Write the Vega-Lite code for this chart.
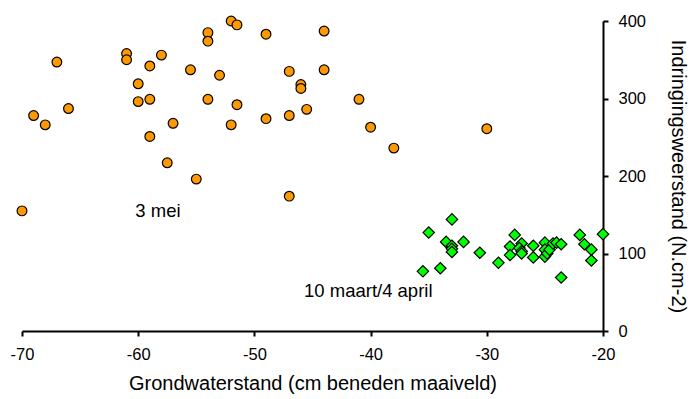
{
  "$schema": "https://vega.github.io/schema/vega-lite/v6.json",
  "width": 581,
  "height": 310,
  "autosize": "none",
  "padding": {"left": 22, "top": 21, "right": 91, "bottom": 68},
  "background": "white",
  "config": {
    "view": {"stroke": null},
    "font": "Liberation Sans",
    "axis": {
      "grid": false,
      "domainColor": "black",
      "domainWidth": 2,
      "tickColor": "black",
      "tickWidth": 2,
      "tickSize": 5,
      "labelColor": "black",
      "labelFont": "Liberation Sans",
      "labelFontSize": 16.5,
      "labelFlush": false,
      "labelExpr": "'' + datum.value",
      "titleColor": "black",
      "titleFont": "Liberation Sans",
      "titleFontSize": 20,
      "titleFontWeight": "normal"
    }
  },
  "datasets": {
    "metingen": [
      {"reeks": "3 mei", "grondwater": -70, "weerstand": 155},
      {"reeks": "3 mei", "grondwater": -69, "weerstand": 278},
      {"reeks": "3 mei", "grondwater": -68, "weerstand": 266},
      {"reeks": "3 mei", "grondwater": -67, "weerstand": 347},
      {"reeks": "3 mei", "grondwater": -66, "weerstand": 287},
      {"reeks": "3 mei", "grondwater": -61, "weerstand": 358},
      {"reeks": "3 mei", "grondwater": -61, "weerstand": 350},
      {"reeks": "3 mei", "grondwater": -60, "weerstand": 319},
      {"reeks": "3 mei", "grondwater": -60, "weerstand": 296},
      {"reeks": "3 mei", "grondwater": -59, "weerstand": 342},
      {"reeks": "3 mei", "grondwater": -59, "weerstand": 299},
      {"reeks": "3 mei", "grondwater": -59, "weerstand": 251},
      {"reeks": "3 mei", "grondwater": -58, "weerstand": 356},
      {"reeks": "3 mei", "grondwater": -57.5, "weerstand": 217},
      {"reeks": "3 mei", "grondwater": -57, "weerstand": 268},
      {"reeks": "3 mei", "grondwater": -55.5, "weerstand": 337},
      {"reeks": "3 mei", "grondwater": -55, "weerstand": 196},
      {"reeks": "3 mei", "grondwater": -54, "weerstand": 385},
      {"reeks": "3 mei", "grondwater": -54, "weerstand": 374},
      {"reeks": "3 mei", "grondwater": -54, "weerstand": 299},
      {"reeks": "3 mei", "grondwater": -53, "weerstand": 330},
      {"reeks": "3 mei", "grondwater": -52, "weerstand": 400},
      {"reeks": "3 mei", "grondwater": -51.5, "weerstand": 395},
      {"reeks": "3 mei", "grondwater": -51.5, "weerstand": 292},
      {"reeks": "3 mei", "grondwater": -52, "weerstand": 266},
      {"reeks": "3 mei", "grondwater": -49, "weerstand": 383},
      {"reeks": "3 mei", "grondwater": -49, "weerstand": 274},
      {"reeks": "3 mei", "grondwater": -47, "weerstand": 335},
      {"reeks": "3 mei", "grondwater": -47, "weerstand": 278},
      {"reeks": "3 mei", "grondwater": -47, "weerstand": 174},
      {"reeks": "3 mei", "grondwater": -46, "weerstand": 318},
      {"reeks": "3 mei", "grondwater": -46, "weerstand": 313},
      {"reeks": "3 mei", "grondwater": -45.5, "weerstand": 286},
      {"reeks": "3 mei", "grondwater": -44, "weerstand": 387},
      {"reeks": "3 mei", "grondwater": -44, "weerstand": 337},
      {"reeks": "3 mei", "grondwater": -41, "weerstand": 299},
      {"reeks": "3 mei", "grondwater": -40, "weerstand": 263},
      {"reeks": "3 mei", "grondwater": -38, "weerstand": 236},
      {"reeks": "3 mei", "grondwater": -30, "weerstand": 261},
      {"reeks": "10 maart/4 april", "grondwater": -33, "weerstand": 144},
      {"reeks": "10 maart/4 april", "grondwater": -35, "weerstand": 127},
      {"reeks": "10 maart/4 april", "grondwater": -33.5, "weerstand": 115},
      {"reeks": "10 maart/4 april", "grondwater": -32, "weerstand": 115},
      {"reeks": "10 maart/4 april", "grondwater": -33, "weerstand": 110},
      {"reeks": "10 maart/4 april", "grondwater": -33, "weerstand": 106},
      {"reeks": "10 maart/4 april", "grondwater": -33, "weerstand": 102},
      {"reeks": "10 maart/4 april", "grondwater": -30.6, "weerstand": 101},
      {"reeks": "10 maart/4 april", "grondwater": -29, "weerstand": 88},
      {"reeks": "10 maart/4 april", "grondwater": -35.5, "weerstand": 77},
      {"reeks": "10 maart/4 april", "grondwater": -34, "weerstand": 81},
      {"reeks": "10 maart/4 april", "grondwater": -27.6, "weerstand": 124},
      {"reeks": "10 maart/4 april", "grondwater": -28, "weerstand": 109},
      {"reeks": "10 maart/4 april", "grondwater": -28, "weerstand": 98},
      {"reeks": "10 maart/4 april", "grondwater": -27, "weerstand": 113},
      {"reeks": "10 maart/4 april", "grondwater": -27.2, "weerstand": 107},
      {"reeks": "10 maart/4 april", "grondwater": -27, "weerstand": 103},
      {"reeks": "10 maart/4 april", "grondwater": -27, "weerstand": 100},
      {"reeks": "10 maart/4 april", "grondwater": -26, "weerstand": 110},
      {"reeks": "10 maart/4 april", "grondwater": -26, "weerstand": 95},
      {"reeks": "10 maart/4 april", "grondwater": -25, "weerstand": 114},
      {"reeks": "10 maart/4 april", "grondwater": -25, "weerstand": 105},
      {"reeks": "10 maart/4 april", "grondwater": -25, "weerstand": 96},
      {"reeks": "10 maart/4 april", "grondwater": -24.8, "weerstand": 100},
      {"reeks": "10 maart/4 april", "grondwater": -24.6, "weerstand": 105},
      {"reeks": "10 maart/4 april", "grondwater": -24.3, "weerstand": 113},
      {"reeks": "10 maart/4 april", "grondwater": -24, "weerstand": 114},
      {"reeks": "10 maart/4 april", "grondwater": -23.6, "weerstand": 112},
      {"reeks": "10 maart/4 april", "grondwater": -23.6, "weerstand": 69},
      {"reeks": "10 maart/4 april", "grondwater": -22, "weerstand": 124},
      {"reeks": "10 maart/4 april", "grondwater": -21.6, "weerstand": 112},
      {"reeks": "10 maart/4 april", "grondwater": -21, "weerstand": 105},
      {"reeks": "10 maart/4 april", "grondwater": -21, "weerstand": 91},
      {"reeks": "10 maart/4 april", "grondwater": -20, "weerstand": 125}
    ],
    "bijschriften": [
      {"tekst": "3 mei", "grondwater": -58.3, "weerstand": 155},
      {"tekst": "10 maart/4 april", "grondwater": -40.2, "weerstand": 51}
    ]
  },
  "layer": [
    {
      "data": {"name": "metingen"},
      "mark": {"type": "point", "filled": true, "stroke": "black", "strokeWidth": 1.2, "opacity": 1, "clip": false},
      "encoding": {
        "x": {
          "field": "grondwater",
          "type": "quantitative",
          "scale": {"domain": [-70, -20], "nice": false, "zero": false},
          "axis": {
            "orient": "bottom",
            "values": [-70, -60, -50, -40, -30, -20],
            "labelPadding": 10,
            "titlePadding": 11,
            "title": "Grondwaterstand (cm beneden maaiveld)"
          }
        },
        "y": {
          "field": "weerstand",
          "type": "quantitative",
          "scale": {"domain": [0, 400], "nice": false},
          "axis": {
            "orient": "right",
            "values": [0, 100, 200, 300, 400],
            "labelPadding": 10,
            "titlePadding": 22,
            "title": "Indringingsweerstand (N.cm-2)"
          }
        },
        "shape": {
          "field": "reeks",
          "type": "nominal",
          "scale": {"domain": ["3 mei", "10 maart/4 april"], "range": ["circle", "diamond"]},
          "legend": null
        },
        "color": {
          "field": "reeks",
          "type": "nominal",
          "scale": {"domain": ["3 mei", "10 maart/4 april"], "range": ["#FF9900", "#00FF00"]},
          "legend": null
        },
        "size": {
          "field": "reeks",
          "type": "nominal",
          "scale": {"domain": ["3 mei", "10 maart/4 april"], "range": [95, 130]},
          "legend": null
        }
      }
    },
    {
      "data": {"name": "bijschriften"},
      "mark": {"type": "text", "font": "Liberation Sans", "fontSize": 18.5, "color": "black", "align": "center", "baseline": "middle"},
      "encoding": {
        "x": {"field": "grondwater", "type": "quantitative"},
        "y": {"field": "weerstand", "type": "quantitative"},
        "text": {"field": "tekst", "type": "nominal"}
      }
    }
  ]
}
